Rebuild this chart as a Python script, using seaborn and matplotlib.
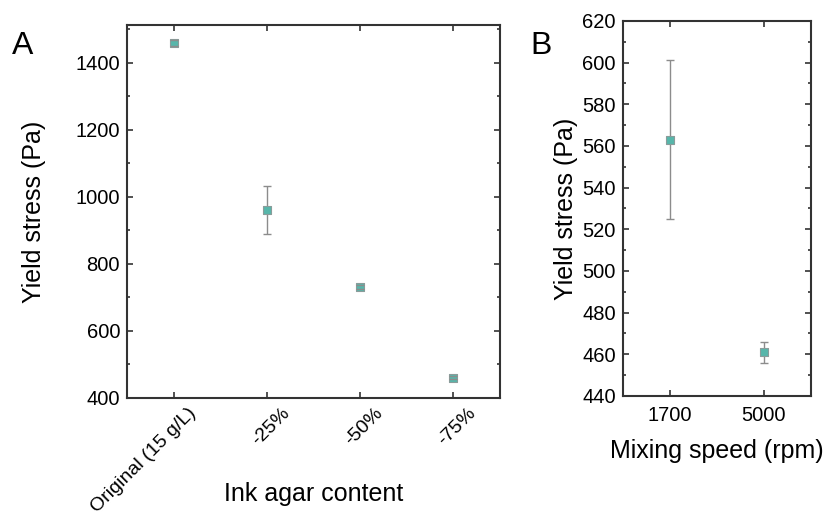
import pandas as pd
import numpy as np
import matplotlib.pyplot as plt
import matplotlib.transforms as mtransforms
import seaborn as sns
from matplotlib.ticker import MultipleLocator

sns.set_theme(style="ticks")
plt.rcParams['font.family'] = ['Liberation Sans', 'DejaVu Sans']
plt.rcParams['text.color'] = 'black'
plt.rcParams['axes.labelcolor'] = 'black'

# ========== DATA ==========
agar_labels = ['Original (15 g/L)', '-25%', '-50%', '-75%']
agar_stress = [1458, 960, 731, 461]
agar_err = [8, 72, 5, 5]

speed_labels = ['1700', '5000']
speed_stress = [563, 461]
speed_err = [38, 5]

marker_color = '#57b6aa'
err_color = '#8c8c8c'
spine_color = '#333333'

df_a = pd.DataFrame({'content': agar_labels, 'stress': agar_stress, 'err': agar_err})
df_b = pd.DataFrame({'speed': speed_labels, 'stress': speed_stress, 'err': speed_err})

fig = plt.figure(figsize=(8.26, 5.21), dpi=100)
ax1 = fig.add_axes([0.1538, 0.2361, 0.4516, 0.716])
ax2 = fig.add_axes([0.754, 0.240, 0.2276, 0.720])


def draw_panel(ax, df, xcol):
    eb = ax.errorbar(df[xcol], df['stress'], yerr=df['err'], fmt='none',
                     ecolor=err_color, elinewidth=1, capsize=2.6, capthick=1, zorder=2)
    # caps sit on top of the markers, as in the original
    for cap in eb[1]:
        cap.set_zorder(4)
        cap.set_color('#555555')
    sns.scatterplot(data=df, x=xcol, y='stress', marker='s', s=40,
                    color=marker_color, edgecolor='#8a9c9a', linewidth=0.8,
                    ax=ax, zorder=3)
    for sp in ax.spines.values():
        sp.set_color(spine_color)
        sp.set_linewidth(1.5)
    ax.tick_params(which='both', direction='in', top=True, right=True,
                   colors=spine_color, labelcolor='black', labelsize=14.5)
    ax.tick_params(which='major', length=4.5, width=1.2)
    ax.tick_params(which='minor', length=2.5, width=1.2)
    ax.tick_params(axis='x', which='minor', top=False, bottom=False)
    ax.tick_params(axis='x', pad=7)
    ax.tick_params(axis='y', pad=5)
    ax.set_xlim(-0.5, len(df) - 0.5)


# ========== PANEL A ==========
draw_panel(ax1, df_a, 'content')
ax1.set_ylim(400, 1512)
ax1.yaxis.set_major_locator(MultipleLocator(200))
ax1.yaxis.set_minor_locator(MultipleLocator(100))
ax1.tick_params(axis='x', labelsize=14, pad=5)
ax1.set_xlabel('Ink agar content', fontsize=18)
ax1.set_ylabel('Yield stress (Pa)', fontsize=18)
ax1.xaxis.set_label_coords(0.5, -0.225)
ax1.yaxis.set_label_coords(-0.217, 0.5)
shift = mtransforms.ScaledTranslation(14 / 100, 0, fig.dpi_scale_trans)
for lab in ax1.get_xticklabels():
    lab.set_rotation(45)
    lab.set_ha('right')
    lab.set_va('top')
    lab.set_rotation_mode('anchor')
    lab.set_transform(lab.get_transform() + shift)
fig.text(0.015, 0.897, 'A', fontsize=23)

# ========== PANEL B ==========
draw_panel(ax2, df_b, 'speed')
ax2.set_ylim(440, 620)
ax2.yaxis.set_major_locator(MultipleLocator(20))
ax2.yaxis.set_minor_locator(MultipleLocator(10))
ax2.set_xlabel('Mixing speed (rpm)', fontsize=18)
ax2.set_ylabel('Yield stress (Pa)', fontsize=18)
ax2.xaxis.set_label_coords(0.5, -0.115)
ax2.yaxis.set_label_coords(-0.239, 0.5)
fig.text(0.642, 0.897, 'B', fontsize=23)

plt.savefig('out.png', dpi=100)
